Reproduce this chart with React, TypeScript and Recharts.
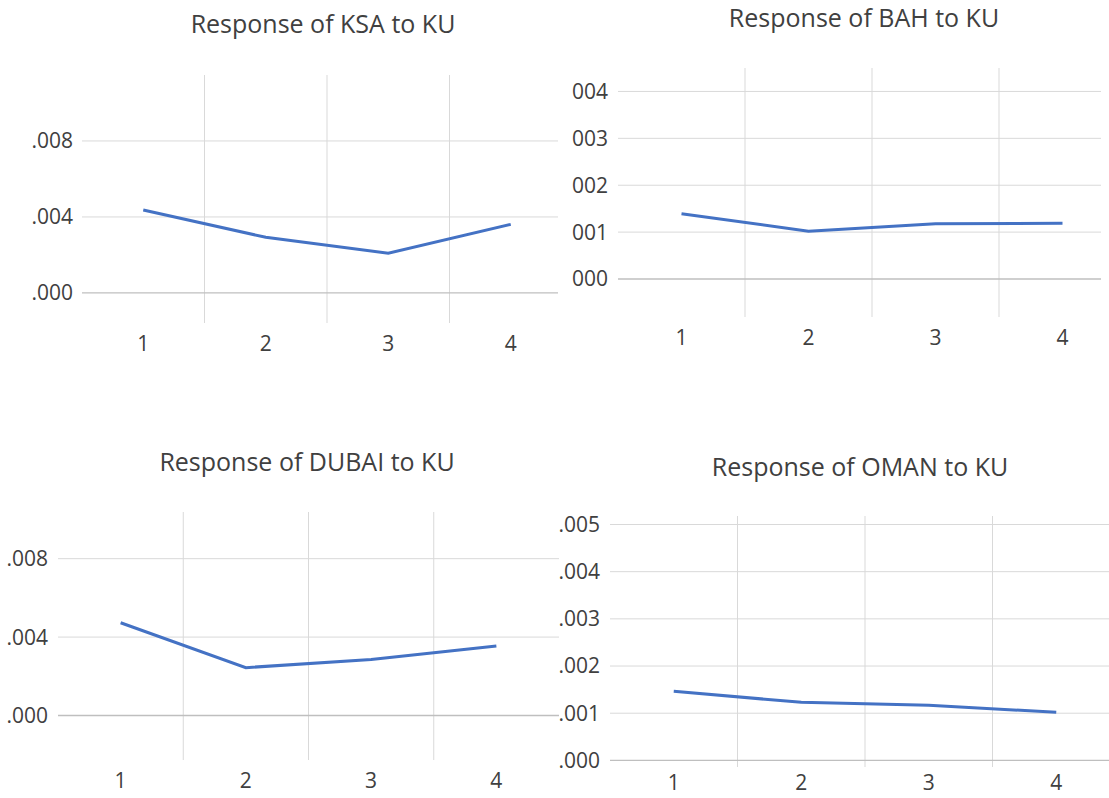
import React from "react";
import { LineChart, Line, XAxis, YAxis, ReferenceLine } from "recharts";

const periods = [1, 2, 3, 4];
const ksaResponse = [0.00437, 0.00293, 0.00209, 0.00361];
const bahResponse = [0.00139, 0.00102, 0.00118, 0.00119];
const dubaiResponse = [0.00473, 0.00244, 0.00286, 0.00354];
const omanResponse = [0.001465, 0.00123, 0.00117, 0.00102];

const ticksWide = [0, 0.004, 0.008];
const ticksBah = [0, 0.001, 0.002, 0.003, 0.004];
const ticksOman = [0, 0.001, 0.002, 0.003, 0.004, 0.005];
const xTicks = [1, 2, 3, 4];
const bandEdges = [1.5, 2.5, 3.5];

const titles = [
  "Response of KSA to KU",
  "Response of BAH to KU",
  "Response of DUBAI to KU",
  "Response of OMAN to KU",
];

const FONT = "'Open Sans', 'Noto Sans', sans-serif";
const LINE_COLOR = "#4472C4";
const GRID_COLOR = "#d9d9d9";
const ZERO_COLOR = "#bfbfbf";
const TEXT_COLOR = "#404040";
const TICK_FONT = 21;
const TITLE_FONT = 25;

const fmtDot = (v: number) => v.toFixed(3).replace(/^0/, "");
const fmtNoDot = (v: number) => v.toFixed(3).replace(/^0\./, "");

type PanelProps = {
  title: string;
  values: number[];
  ticks: number[];
  domain: [number, number];
  plot: { L: number; T: number; R: number; B: number };
  clip: { x: number; y: number; w: number; h: number };
  titleCenter: { x: number; y: number };
  yGap: number;
  xGap: number;
  fmt: (v: number) => string;
};

function Panel(p: PanelProps) {
  const yw = 90;
  const xh = 50;
  const topPad = 20;
  const chartX = p.plot.L - yw;
  const chartY = p.plot.T - topPad;
  const width = yw + (p.plot.R - p.plot.L);
  const height = p.plot.B - p.plot.T + xh + topPad;
  const data = periods.map((x, i) => ({ x, v: p.values[i] }));
  return (
    <div
      style={{
        position: "absolute",
        left: p.clip.x,
        top: p.clip.y,
        width: p.clip.w,
        height: p.clip.h,
        overflow: "hidden",
        background: "#fff",
      }}
    >
      <div
        style={{
          position: "absolute",
          left: p.titleCenter.x - 250 - p.clip.x,
          top: p.titleCenter.y - 17.8 - p.clip.y,
          width: 500,
          textAlign: "center",
          fontFamily: FONT,
          fontSize: TITLE_FONT,
          lineHeight: "34px",
          color: TEXT_COLOR,
          whiteSpace: "nowrap",
        }}
      >
        {p.title}
      </div>
      <div style={{ position: "absolute", left: chartX - p.clip.x, top: chartY - p.clip.y }}>
        <LineChart width={width} height={height} data={data} margin={{ top: topPad, right: 0, bottom: 0, left: 0 }}>
          <XAxis
            dataKey="x"
            type="number"
            domain={[0.5, 4.5]}
            ticks={xTicks}
            axisLine={false}
            tickLine={false}
            tickSize={0}
            tickMargin={p.xGap}
            height={xh}
            tick={{ fill: TEXT_COLOR, fontSize: TICK_FONT, fontFamily: FONT }}
            interval={0}
          />
          <YAxis
            type="number"
            domain={p.domain}
            ticks={p.ticks}
            allowDataOverflow
            axisLine={false}
            tickLine={false}
            tickSize={0}
            tickMargin={p.yGap}
            width={yw}
            tickFormatter={p.fmt}
            tick={{ fill: TEXT_COLOR, fontSize: TICK_FONT, fontFamily: FONT }}
            interval={0}
          />
          {p.ticks.filter((t) => t !== 0).map((t) => (
            <ReferenceLine key={"h" + t} y={t} stroke={GRID_COLOR} strokeWidth={1} />
          ))}
          {bandEdges.map((e) => (
            <ReferenceLine key={"v" + e} x={e} stroke={GRID_COLOR} strokeWidth={1} />
          ))}
          <ReferenceLine y={0} stroke={ZERO_COLOR} strokeWidth={1.3} />
          <Line
            type="linear"
            dataKey="v"
            stroke={LINE_COLOR}
            strokeWidth={3}
            dot={false}
            isAnimationActive={false}
          />
        </LineChart>
      </div>
    </div>
  );
}

export default function App() {
  return (
    <div
      style={{
        position: "absolute",
        left: 0,
        top: 0,
        width: 1109,
        height: 798,
        background: "#fff",
        overflow: "hidden",
      }}
    >
      <Panel
        title={titles[0]}
        values={ksaResponse}
        ticks={ticksWide}
        domain={[-0.00158, 0.01147]}
        plot={{ L: 82, T: 75, R: 572, B: 323 }}
        clip={{ x: 0, y: 0, w: 558, h: 420 }}
        titleCenter={{ x: 323, y: 24 }}
        yGap={9}
        xGap={13}
        fmt={fmtDot}
      />
      <Panel
        title={titles[2]}
        values={dubaiResponse}
        ticks={ticksWide}
        domain={[-0.00227, 0.01038]}
        plot={{ L: 58, T: 512, R: 559, B: 760 }}
        clip={{ x: 0, y: 420, w: 559, h: 378 }}
        titleCenter={{ x: 307, y: 462 }}
        yGap={10}
        xGap={13}
        fmt={fmtDot}
      />
      <Panel
        title={titles[1]}
        values={bahResponse}
        ticks={ticksBah}
        domain={[-0.00081, 0.0045]}
        plot={{ L: 618, T: 68, R: 1126, B: 317 }}
        clip={{ x: 558, y: 0, w: 543, h: 420 }}
        titleCenter={{ x: 864, y: 18 }}
        yGap={10}
        xGap={13}
        fmt={fmtNoDot}
      />
      <Panel
        title={titles[3]}
        values={omanResponse}
        ticks={ticksOman}
        domain={[-0.00014, 0.00518]}
        plot={{ L: 610, T: 516, R: 1120, B: 767 }}
        clip={{ x: 559, y: 420, w: 550, h: 378 }}
        titleCenter={{ x: 860, y: 467 }}
        yGap={10}
        xGap={8}
        fmt={fmtDot}
      />
    </div>
  );
}
